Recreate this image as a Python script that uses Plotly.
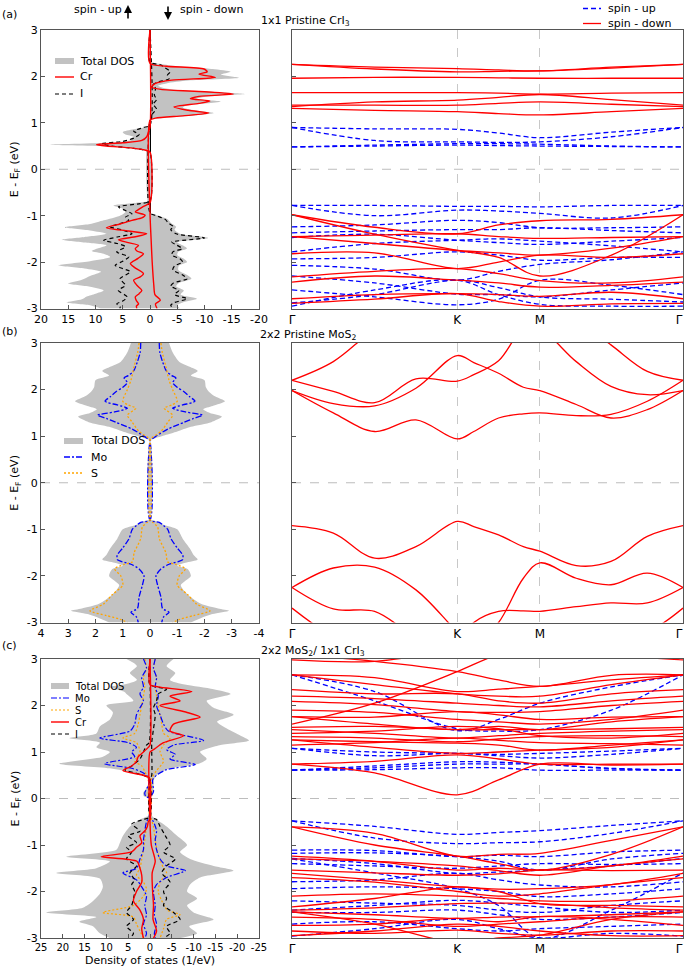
import plotly.graph_objects as go

# ------------------------------------------------------------------ data
# k-path (Gamma-K-M-Gamma, lengths 1 : 0.5 : 0.866)
KPATH_POS = [0.0, 1.0, 1.5, 2.366]
KPATH_LBL = ["Γ", "K", "M", "Γ"]
K7 = [0.0, 0.5, 1.0, 1.25, 1.5, 1.933, 2.366]
K13 = [0.0, 0.25, 0.5, 0.75, 1.0, 1.1, 1.25, 1.4, 1.5, 1.72, 1.93, 2.15, 2.366]
E_TICKS = [3, 2, 1, 0, -1, -2, -3]
DOS_TICKS_A = [20, 15, 10, 5, 0, -5, -10, -15, -20]
DOS_TICKS_B = [4, 3, 2, 1, 0, -1, -2, -3, -4]
DOS_TICKS_C = [25, 20, 15, 10, 5, 0, -5, -10, -15, -20, -25]

# (a) pristine CrI3 DOS  (energy eV, DOS 1/eV); spin-up > 0, spin-down < 0
A_TOT_UP = [(3.0, 0), (0.97, 0), (0.92, 0.4), (0.86, 3.0), (0.8, 5.0), (0.75, 4.5), (0.7, 3.0),
            (0.64, 3.2), (0.58, 6.0), (0.53, 18.3), (0.49, 7.0), (0.45, 3.5), (0.41, 1.5), (0.37, 0),
            (-0.66, 0), (-0.72, 2.5), (-0.78, 6.7), (-0.85, 5.0), (-0.92, 4.5), (-1.0, 5.5),
            (-1.1, 8.5), (-1.18, 11.0), (-1.25, 15.6), (-1.32, 11.0), (-1.39, 8.0), (-1.46, 12.0),
            (-1.52, 16.2), (-1.58, 12.0), (-1.64, 8.0), (-1.7, 9.5), (-1.76, 10.7), (-1.82, 8.5),
            (-1.89, 7.3), (-1.98, 11.0), (-2.07, 16.8), (-2.14, 12.0), (-2.21, 9.0), (-2.3, 11.0),
            (-2.38, 12.5), (-2.46, 15.0), (-2.53, 11.0), (-2.61, 8.5), (-2.68, 10.0), (-2.74, 11.6),
            (-2.8, 12.5), (-2.87, 15.3), (-2.93, 11.0), (-3.0, 9.0)]
A_TOT_DN = [(3.0, 0), (2.31, 0), (2.27, -2.0), (2.22, -5.0), (2.16, -11.5), (2.1, -14.8), (2.04, -13.0),
            (1.97, -16.3), (1.91, -7.0), (1.85, -3.0), (1.8, -1.5), (1.75, -2.5), (1.71, -5.0),
            (1.66, -13.0), (1.62, -17.5), (1.57, -10.5), (1.52, -8.5), (1.46, -13.0), (1.42, -10.5),
            (1.37, -6.5), (1.33, -6.0), (1.27, -8.2), (1.21, -11.7), (1.15, -7.5), (1.1, -2.0),
            (1.06, 0), (-0.94, 0), (-1.0, -1.6), (-1.08, -3.3), (-1.15, -3.8), (-1.24, -4.8),
            (-1.3, -4.5), (-1.39, -5.5), (-1.48, -10.7), (-1.57, -5.0), (-1.64, -6.0), (-1.71, -6.8),
            (-1.78, -5.2), (-1.85, -5.0), (-1.93, -6.2), (-2.0, -6.8), (-2.08, -5.3), (-2.17, -5.2),
            (-2.28, -6.8), (-2.36, -7.6), (-2.45, -5.3), (-2.52, -4.8), (-2.61, -6.2), (-2.7, -5.6),
            (-2.79, -8.6), (-2.87, -6.0), (-2.93, -5.0), (-3.0, -5.5)]
A_CR_UP = [(3.0, 0), (0.9, 0), (0.8, 0.3), (0.7, 0.6), (0.62, 1.5), (0.57, 5.0), (0.53, 9.8), (0.5, 8.0),
           (0.46, 3.5), (0.41, 0.8), (0.37, 0), (-0.72, 0), (-0.8, 1.2), (-0.86, 2.0), (-0.92, 2.7),
           (-0.99, 0.9), (-1.05, 1.5), (-1.1, 3.3), (-1.18, 5.5), (-1.26, 8.0), (-1.33, 4.0),
           (-1.39, 0.6), (-1.45, 2.5), (-1.52, 5.8), (-1.58, 4.0), (-1.64, 2.1), (-1.71, 2.7),
           (-1.76, 2.4), (-1.82, 1.2), (-1.92, 2.2), (-2.03, 3.6), (-2.12, 2.8), (-2.25, 1.2),
           (-2.32, 1.8), (-2.39, 3.0), (-2.5, 2.4), (-2.61, 1.5), (-2.68, 2.0), (-2.75, 2.7),
           (-2.83, 2.5), (-2.9, 2.1), (-2.95, 2.5), (-3.0, 2.4)]
A_CR_DN = [(3.0, 0), (2.28, 0), (2.22, -3.0), (2.16, -9.9), (2.1, -10.5), (2.05, -9.0), (1.98, -12.0),
           (1.92, -4.0), (1.85, -1.0), (1.77, -0.3), (1.72, -2.0), (1.67, -10.0), (1.62, -15.3),
           (1.57, -9.0), (1.52, -7.4), (1.47, -11.0), (1.42, -9.0), (1.34, -4.4), (1.27, -7.0),
           (1.21, -10.8), (1.15, -6.0), (1.1, -1.0), (1.05, 0), (-0.94, 0), (-1.5, -0.2), (-2.0, -0.4),
           (-2.5, -0.7), (-2.7, -0.9), (-2.82, -1.9), (-2.9, -1.0), (-3.0, -1.3)]
A_I_UP = [(3.0, 0), (0.95, 0), (0.9, 1.2), (0.82, 3.0), (0.75, 2.0), (0.68, 2.8), (0.6, 5.0), (0.55, 8.8),
          (0.5, 7.0), (0.45, 3.0), (0.4, 0.5), (0.37, 0), (-0.68, 0), (-0.74, 1.8), (-0.81, 5.8),
          (-0.89, 4.5), (-0.96, 3.3), (-1.03, 4.5), (-1.1, 3.9), (-1.17, 5.5), (-1.24, 7.3), (-1.31, 5.0),
          (-1.39, 3.3), (-1.46, 6.0), (-1.53, 8.5), (-1.6, 6.0), (-1.67, 4.5), (-1.78, 6.1), (-1.89, 3.9),
          (-1.98, 5.0), (-2.07, 6.4), (-2.14, 5.0), (-2.21, 3.6), (-2.36, 5.5), (-2.5, 4.5), (-2.61, 5.8),
          (-2.75, 4.2), (-2.84, 5.0), (-2.9, 6.1), (-2.96, 5.5), (-3.0, 5.5)]
A_I_DN = [(3.0, 0), (2.31, 0), (2.25, -1.9), (2.18, -2.8), (2.1, -3.7), (2.03, -3.2), (1.95, -3.5),
          (1.88, -1.5), (1.82, -0.5), (1.75, -1.0), (1.6, -0.8), (1.5, -1.2), (1.4, -0.6), (1.3, -1.2),
          (1.2, -0.5), (1.1, -0.3), (1.05, 0), (-0.94, 0), (-1.0, -1.2), (-1.08, -2.8), (-1.15, -3.3),
          (-1.24, -4.3), (-1.3, -3.8), (-1.39, -4.8), (-1.48, -10.0), (-1.57, -4.0), (-1.64, -5.0),
          (-1.71, -5.9), (-1.78, -4.2), (-1.85, -4.0), (-1.93, -5.5), (-2.0, -6.0), (-2.08, -4.5),
          (-2.17, -4.2), (-2.28, -6.0), (-2.36, -6.8), (-2.45, -4.3), (-2.52, -3.8), (-2.61, -5.3),
          (-2.7, -4.5), (-2.79, -6.8), (-2.87, -4.5), (-2.93, -3.8), (-3.0, -4.3)]

# (b) pristine MoS2 DOS (non-magnetic: spin-down mirrors spin-up)
B_TOT = [(3.0, 0.7), (2.8, 0.83), (2.6, 1.07), (2.48, 1.5), (2.4, 1.75), (2.3, 1.5), (2.2, 2.0),
         (2.05, 2.05), (1.95, 2.17), (1.85, 2.4), (1.75, 2.75), (1.65, 2.3), (1.58, 1.95), (1.5, 2.2),
         (1.42, 2.64), (1.3, 2.25), (1.2, 1.5), (1.1, 1.0), (1.02, 0.55), (0.95, 0.16), (0.9, 0),
         (-0.78, 0), (-0.82, 0.2), (-0.9, 0.5), (-1.0, 1.0), (-1.2, 1.2), (-1.4, 1.45), (-1.55, 1.6),
         (-1.65, 1.75), (-1.72, 1.3), (-1.78, 1.0), (-1.85, 1.38), (-2.0, 1.5), (-2.2, 1.13),
         (-2.4, 1.38), (-2.6, 1.87), (-2.7, 2.5), (-2.75, 2.9), (-2.82, 2.3), (-2.9, 1.9), (-3.0, 1.5)]
B_MO = [(3.0, 0.34), (2.8, 0.36), (2.6, 0.46), (2.4, 0.6), (2.3, 0.8), (2.25, 0.95), (2.15, 0.83),
        (2.05, 1.0), (1.95, 1.26), (1.85, 1.45), (1.75, 1.65), (1.67, 1.2), (1.6, 0.83), (1.52, 1.3),
        (1.45, 1.93), (1.38, 1.6), (1.3, 1.26), (1.15, 0.65), (1.0, 0.22), (0.92, 0.03), (0.9, 0),
        (-0.8, 0), (-0.85, 0.34), (-0.92, 0.5), (-1.0, 0.65), (-1.2, 0.77), (-1.4, 1.0), (-1.55, 1.2),
        (-1.65, 1.2), (-1.75, 0.7), (-1.85, 0.4), (-2.0, 0.22), (-2.2, 0.28), (-2.45, 0.4), (-2.7, 0.46),
        (-2.78, 0.7), (-2.88, 0.5), (-3.0, 0.43)]
B_S = [(3.0, 0.4), (2.8, 0.45), (2.5, 0.58), (2.2, 0.7), (2.0, 0.83), (1.75, 1.0), (1.67, 0.8),
       (1.6, 0.52), (1.45, 0.83), (1.3, 0.65), (1.1, 0.4), (0.98, 0.1), (0.95, 0.02), (0.9, 0),
       (-0.8, 0), (-0.85, 0.1), (-0.95, 0.28), (-1.2, 0.34), (-1.5, 0.58), (-1.7, 0.65), (-1.75, 0.95),
       (-1.85, 1.3), (-2.0, 1.07), (-2.2, 1.0), (-2.4, 1.38), (-2.6, 1.7), (-2.75, 2.2), (-2.85, 1.6),
       (-2.93, 1.1), (-3.0, 0.83)]

# (c) MoS2 / CrI3 heterostructure DOS
C_TOT_UP = [(3.0, 5.4), (2.85, 3.0), (2.7, 4.6), (2.55, 3.0), (2.45, 6.0), (2.4, 9.2), (2.3, 6.0),
            (2.25, 5.4), (2.1, 3.8), (2.0, 10.0), (1.85, 8.5), (1.7, 9.2), (1.55, 11.5), (1.4, 12.3),
            (1.3, 18.5), (1.2, 11.5), (1.1, 12.3), (1.0, 9.2), (0.9, 10.8), (0.75, 20.8), (0.65, 9.2),
            (0.55, 3.8), (0.45, 0.8), (0.35, 0.3), (0.2, 1.0), (0.12, 1.6), (0.05, 1.4), (0.0, 0.2),
            (-0.35, 0.1), (-0.45, 2.3), (-0.6, 4.6), (-0.8, 6.2), (-0.95, 6.9), (-1.1, 7.7),
            (-1.25, 19.2), (-1.35, 9.2), (-1.5, 12.3), (-1.6, 21.5), (-1.72, 11.5), (-1.9, 10.8),
            (-2.05, 11.5), (-2.2, 13.0), (-2.35, 15.4), (-2.45, 23.8), (-2.55, 12.3), (-2.65, 16.2),
            (-2.75, 13.0), (-2.9, 11.5), (-3.0, 9.2)]
C_TOT_DN = [(3.0, -5.4), (2.85, -3.8), (2.7, -5.8), (2.55, -4.6), (2.45, -8.0), (2.35, -14.6),
            (2.25, -18.5), (2.1, -13.0), (1.95, -14.6), (1.8, -19.2), (1.65, -15.4), (1.5, -17.7),
            (1.35, -20.8), (1.25, -22.7), (1.15, -16.2), (1.0, -11.5), (0.85, -13.0), (0.75, -11.2),
            (0.65, -4.6), (0.5, -1.5), (0.4, -0.9), (0.15, -0.8), (0.05, -0.5), (0.0, 0), (-0.35, -0.2),
            (-0.45, -1.5), (-0.6, -3.8), (-0.8, -6.2), (-1.0, -8.5), (-1.15, -6.9), (-1.3, -9.2),
            (-1.45, -14.6), (-1.55, -19.2), (-1.7, -11.5), (-1.85, -9.2), (-2.0, -8.5), (-2.15, -10.8),
            (-2.3, -8.5), (-2.45, -10.0), (-2.6, -14.6), (-2.75, -9.0), (-2.9, -10.8), (-3.0, -7.0)]
C_MO_UP = [(3.0, 1.5), (2.8, 0.8), (2.6, 1.9), (2.4, 1.5), (2.25, 2.3), (2.1, 1.5), (1.95, 2.3), (1.8, 3.1),
           (1.6, 3.5), (1.45, 4.6), (1.3, 11.5), (1.2, 5.0), (1.1, 3.1), (1.0, 4.2), (0.9, 3.5),
           (0.75, 10.4), (0.65, 4.2), (0.55, 1.5), (0.45, 0.4), (0.3, 0.3), (0.12, 1.2), (0.05, 1.0),
           (0.0, 0.1), (-0.4, 0.2), (-0.5, 0.8), (-0.7, 1.2), (-0.9, 1.5), (-1.1, 1.5), (-1.3, 2.3),
           (-1.5, 3.1), (-1.6, 6.2), (-1.75, 3.1), (-1.9, 1.9), (-2.1, 0.8), (-2.3, 1.2), (-2.5, 0.8),
           (-2.7, 1.5), (-2.9, 0.8), (-3.0, 1.2)]
C_MO_DN = [(3.0, -1.2), (2.8, -0.8), (2.6, -1.5), (2.4, -1.2), (2.2, -1.9), (2.0, -1.5), (1.8, -2.3),
           (1.6, -3.1), (1.45, -4.2), (1.25, -12.3), (1.15, -5.4), (1.05, -3.8), (0.95, -5.8),
           (0.85, -4.6), (0.73, -10.4), (0.62, -3.8), (0.5, -1.5), (0.4, -0.6), (0.15, -0.8), (0.0, 0),
           (-0.4, 0), (-0.5, -0.8), (-0.7, -1.5), (-0.9, -1.2), (-1.1, -1.5), (-1.3, -2.3), (-1.45, -3.8),
           (-1.55, -8.1), (-1.7, -3.8), (-1.85, -1.5), (-2.0, -0.8), (-2.3, -1.2), (-2.5, -1.0),
           (-2.7, -1.5), (-2.9, -1.0), (-3.0, -1.2)]
C_S_UP = [(3.0, 1.2), (2.8, 0.8), (2.6, 1.5), (2.4, 1.2), (2.2, 1.5), (2.0, 1.9), (1.8, 2.3), (1.6, 2.7),
          (1.4, 3.5), (1.3, 6.2), (1.2, 3.1), (1.0, 2.3), (0.8, 3.5), (0.7, 1.9), (0.5, 0.8), (0.35, 0.3),
          (0.1, 0.4), (-0.4, 0.2), (-0.6, 0.8), (-0.9, 1.2), (-1.1, 1.5), (-1.3, 1.9), (-1.5, 2.3),
          (-1.65, 3.1), (-1.8, 1.5), (-1.95, 0.8), (-2.1, 1.5), (-2.3, 3.8), (-2.45, 10.8), (-2.55, 3.8),
          (-2.7, 3.1), (-2.85, 2.3), (-3.0, 1.5)]
C_S_DN = [(3.0, -1.2), (2.8, -0.8), (2.6, -1.5), (2.4, -1.2), (2.2, -1.5), (2.0, -1.9), (1.8, -2.3),
          (1.6, -2.7), (1.4, -3.1), (1.3, -4.6), (1.15, -3.1), (1.0, -2.3), (0.8, -3.1), (0.6, -1.5),
          (0.45, -0.5), (0.1, -0.4), (-0.4, -0.2), (-0.6, -0.8), (-0.9, -1.2), (-1.2, -1.9), (-1.5, -3.1),
          (-1.6, -3.8), (-1.8, -2.3), (-2.0, -1.9), (-2.2, -2.7), (-2.4, -4.0), (-2.5, -6.9), (-2.6, -3.8),
          (-2.8, -3.1), (-3.0, -2.3)]
C_CR_UP = [(3.0, 0), (1.15, 0), (1.1, 0.4), (1.0, 1.5), (0.9, 2.7), (0.8, 3.1), (0.7, 4.2), (0.6, 6.2),
           (0.5, 1.5), (0.45, 0.2), (0.4, 0), (-0.45, 0), (-0.5, 0.4), (-0.6, 0.6), (-0.7, 1.2), (-0.8, 2.3),
           (-0.95, 1.9), (-1.05, 3.1), (-1.15, 4.2), (-1.25, 11.2), (-1.35, 3.0), (-1.5, 2.3),
           (-1.65, 1.9), (-1.8, 1.9), (-2.0, 3.1), (-2.2, 3.8), (-2.4, 2.3), (-2.6, 1.5), (-2.8, 1.9),
           (-3.0, 1.5)]
C_CR_DN = [(3.0, 0), (2.45, 0), (2.4, -1.9), (2.3, -9.6), (2.2, -4.6), (2.1, -6.9), (2.0, -2.3),
           (1.85, -8.5), (1.75, -11.5), (1.6, -5.4), (1.45, -4.6), (1.35, -7.7), (1.2, -3.1), (1.05, -0.8),
           (1.0, 0), (-0.5, 0), (-1.0, -0.3), (-1.35, -1.2), (-1.6, -0.5), (-2.0, -0.6), (-2.3, -0.8),
           (-2.6, -0.7), (-2.85, -1.5), (-3.0, -0.8)]
C_I_UP = [(3.0, 0.1), (1.2, 0.2), (1.15, 0.8), (1.0, 1.5), (0.85, 2.3), (0.7, 4.2), (0.62, 5.8),
          (0.52, 2.3), (0.45, 0.3), (0.4, 0), (-0.4, 0), (-0.45, 1.5), (-0.55, 4.2), (-0.7, 2.3),
          (-0.8, 5.0), (-0.95, 3.1), (-1.05, 5.4), (-1.15, 4.2), (-1.3, 5.4), (-1.45, 3.1), (-1.6, 4.6),
          (-1.75, 3.5), (-1.85, 4.2), (-2.0, 3.5), (-2.15, 3.8), (-2.3, 4.2), (-2.45, 5.4), (-2.6, 3.8),
          (-2.75, 5.4), (-2.9, 3.8), (-3.0, 4.6)]
C_I_DN = [(3.0, 0), (2.45, 0), (2.35, -3.8), (2.25, -1.9), (2.1, -1.5), (1.95, -0.8), (1.8, -1.2),
          (1.5, -0.8), (1.2, -0.4), (1.0, -0.4), (0.5, -0.4), (0.4, 0), (-0.4, 0), (-0.45, -1.5),
          (-0.6, -2.3), (-0.8, -3.5), (-1.0, -4.6), (-1.15, -3.1), (-1.3, -5.8), (-1.45, -3.8),
          (-1.6, -2.7), (-1.8, -4.6), (-2.0, -3.1), (-2.15, -3.8), (-2.3, -3.1), (-2.45, -5.4),
          (-2.6, -6.9), (-2.75, -3.8), (-2.9, -4.6), (-3.0, -3.1)]

# band energies (eV) at K7 / K13 points
A_BANDS_UP = [
    [0.90, 0.87, 0.86, 0.78, 0.68, 0.80, 0.90],
    [0.90, 0.62, 0.59, 0.58, 0.59, 0.70, 0.90],
    [0.48, 0.52, 0.55, 0.55, 0.54, 0.50, 0.48],
    [0.48, 0.50, 0.52, 0.51, 0.50, 0.49, 0.48],
    [-0.78, -0.78, -0.80, -0.80, -0.81, -0.78, -0.78],
    [-0.78, -1.00, -0.88, -0.90, -0.95, -1.05, -0.78],
    [-1.24, -1.20, -1.10, -1.15, -1.26, -1.26, -1.24],
    [-1.37, -1.33, -1.30, -1.30, -1.26, -1.32, -1.37],
    [-1.47, -1.40, -1.53, -1.58, -1.62, -1.55, -1.47],
    [-1.78, -1.60, -1.53, -1.50, -1.55, -1.65, -1.78],
    [-1.93, -1.90, -1.78, -1.85, -1.96, -1.90, -1.90],
    [-2.07, -2.15, -2.39, -2.20, -2.05, -1.95, -1.78],
    [-2.88, -2.70, -2.39, -2.55, -2.75, -2.80, -2.86],
    [-2.95, -2.60, -2.39, -2.70, -2.91, -2.95, -2.95],
    [-2.30, -2.45, -2.69, -2.70, -2.75, -2.60, -2.45],
    [-2.60, -2.75, -2.92, -2.80, -2.39, -2.50, -2.70],
]
A_BANDS_DN = [
    [2.26, 2.20, 2.17, 2.14, 2.12, 2.20, 2.26],
    [2.26, 2.16, 2.10, 2.11, 2.12, 2.18, 2.26],
    [1.96, 1.98, 1.98, 1.97, 1.96, 1.96, 1.96],
    [1.65, 1.65, 1.65, 1.64, 1.62, 1.64, 1.65],
    [1.35, 1.45, 1.49, 1.55, 1.61, 1.50, 1.38],
    [1.38, 1.38, 1.38, 1.42, 1.45, 1.40, 1.35],
    [1.31, 1.27, 1.24, 1.20, 1.17, 1.24, 1.31],
    [-0.98, -1.25, -1.39, -1.20, -1.11, -1.08, -0.98],
    [-0.98, -1.40, -1.75, -1.90, -2.30, -1.85, -0.98],
    [-1.45, -1.42, -1.39, -1.45, -1.49, -1.47, -1.45],
    [-1.45, -1.60, -1.75, -1.80, -1.85, -1.70, -1.45],
    [-1.82, -1.80, -2.14, -2.00, -1.85, -1.90, -1.82],
    [-2.32, -2.20, -2.14, -2.25, -2.40, -2.45, -2.32],
    [-2.43, -2.30, -2.39, -2.45, -2.54, -2.50, -2.43],
    [-2.79, -2.70, -2.68, -2.70, -2.74, -2.65, -2.79],
    [-2.89, -2.80, -2.68, -2.85, -2.95, -2.90, -2.89],
]
B_BANDS = [
    [1.98, 1.50, 1.10, 1.35, 0.94, 1.10, 1.39, 1.48, 1.50, 1.44, 1.47, 1.75, 2.20],
    [1.98, 1.70, 1.65, 2.03, 2.73, 2.58, 2.35, 2.05, 1.98, 1.68, 1.39, 1.57, 1.98],
    [2.20, 1.96, 1.72, 2.23, 2.18, 2.32, 2.62, 3.30, 3.30, 2.60, 2.07, 1.89, 1.98],
    [2.20, 2.60, 3.30, 3.80, 4.00, 4.00, 3.90, 3.80, 3.70, 3.50, 2.96, 2.39, 2.20],
    [-0.92, -1.08, -1.62, -1.37, -0.83, -0.94, -1.12, -1.37, -1.47, -1.78, -1.69, -1.15, -0.92],
    [-2.25, -1.83, -1.81, -2.30, -3.20, -3.50, -3.00, -2.05, -1.72, -2.05, -2.19, -1.94, -2.25],
    [-2.25, -2.71, -2.76, -3.30, -3.50, -3.00, -2.76, -2.75, -2.76, -2.66, -2.58, -2.58, -2.25],
    [-2.69, -3.30, -3.60, -3.60, -3.60, -3.60, -3.60, -3.60, -3.60, -3.50, -3.30, -3.20, -2.69],
]
C_BANDS_UP = [
    [2.66, 2.30, 1.46, 1.70, 2.05, 2.40, 2.66],
    [2.66, 2.10, 1.50, 1.45, 1.48, 1.90, 2.66],
    [1.08, 1.00, 0.97, 0.95, 0.97, 1.02, 1.08],
    [1.08, 0.92, 0.97, 0.92, 0.87, 0.95, 1.08],
    [0.61, 0.70, 0.79, 0.78, 0.74, 0.65, 0.61],
    [0.61, 0.66, 0.74, 0.74, 0.74, 0.64, 0.61],
    [0.61, 0.62, 0.66, 0.66, 0.61, 0.61, 0.61],
    [-0.48, -0.60, -0.77, -0.73, -0.69, -0.58, -0.48],
    [-0.48, -0.85, -0.97, -0.95, -0.93, -0.75, -0.48],
    [-1.11, -1.12, -1.25, -1.22, -1.25, -1.15, -1.11],
    [-1.18, -1.17, -1.25, -1.35, -1.54, -1.30, -1.18],
    [-1.29, -1.40, -1.61, -1.58, -1.54, -1.45, -1.29],
    [-1.40, -1.45, -1.50, -1.45, -1.40, -1.42, -1.40],
    [-1.79, -1.75, -1.61, -1.75, -1.86, -1.90, -1.79],
    [-1.94, -1.90, -1.94, -2.00, -2.11, -2.05, -1.94],
    [-2.20, -2.25, -2.30, -2.40, -2.45, -2.30, -2.20],
    [-2.40, -2.30, -2.19, -2.25, -2.33, -2.45, -2.40],
    [-2.45, -2.45, -2.40, -2.50, -2.60, -2.55, -2.45],
    [-2.70, -2.65, -2.80, -2.85, -2.80, -2.75, -2.70],
    [-2.96, -2.80, -2.60, -2.80, -3.00, -2.90, -2.96],
    [-1.30, -1.60, -1.94, -2.30, -3.00, -2.40, -1.60],
]
C_BANDS_DN = [
    [2.98, 2.95, 3.20, 3.30, 3.35, 3.10, 2.98],
    [3.10, 2.95, 2.73, 2.55, 2.41, 2.65, 2.66],
    [1.60, 2.05, 2.73, 3.10, 3.30, 3.30, 3.20],
    [2.66, 2.60, 2.30, 2.35, 2.41, 2.55, 2.66],
    [2.66, 2.45, 2.25, 2.20, 2.20, 2.45, 2.66],
    [2.34, 2.25, 2.25, 2.10, 2.05, 2.25, 2.34],
    [2.20, 2.15, 2.05, 2.00, 1.97, 2.10, 2.20],
    [2.09, 2.02, 1.87, 1.85, 1.87, 2.00, 2.09],
    [1.90, 1.85, 1.70, 1.65, 1.60, 1.70, 1.90],
    [1.76, 1.75, 1.87, 1.80, 1.70, 1.75, 1.76],
    [1.76, 1.60, 1.48, 1.55, 1.48, 1.65, 1.76],
    [1.53, 1.55, 1.48, 1.48, 1.48, 1.50, 1.53],
    [1.48, 1.40, 1.30, 1.35, 1.40, 1.45, 1.48],
    [1.40, 1.45, 1.55, 1.50, 1.35, 1.30, 1.40],
    [1.33, 1.30, 1.22, 1.28, 1.33, 1.35, 1.33],
    [1.26, 1.22, 1.19, 1.15, 1.04, 1.15, 1.26],
    [1.15, 1.20, 1.30, 1.25, 1.20, 1.18, 1.15],
    [1.26, 1.10, 0.97, 1.00, 1.04, 1.10, 1.26],
    [0.74, 0.80, 0.94, 0.85, 0.74, 0.74, 0.74],
    [0.74, 0.55, 0.08, 0.40, 0.74, 0.72, 0.74],
    [-0.61, -1.00, -1.24, -1.40, -1.54, -1.20, -0.61],
    [-0.61, -0.75, -1.24, -1.20, -1.18, -0.90, -0.61],
    [-1.24, -1.35, -1.54, -1.50, -1.54, -1.45, -1.24],
    [-1.30, -1.35, -1.45, -1.55, -1.65, -1.45, -1.30],
    [-1.54, -1.60, -1.65, -1.62, -1.54, -1.55, -1.54],
    [-1.61, -1.75, -1.90, -1.95, -1.94, -1.85, -1.61],
    [-1.70, -1.80, -2.00, -2.10, -2.05, -1.85, -1.70],
    [-2.10, -2.05, -2.10, -2.15, -2.20, -2.20, -2.10],
    [-2.33, -2.15, -1.90, -2.00, -2.26, -2.30, -2.33],
    [-2.40, -2.35, -2.26, -2.25, -2.26, -2.35, -2.40],
    [-2.44, -2.50, -2.58, -2.55, -2.54, -2.50, -2.44],
    [-2.55, -2.60, -2.75, -2.70, -2.65, -2.55, -2.55],
    [-2.73, -2.70, -2.58, -2.65, -2.54, -2.60, -2.73],
    [-2.85, -2.90, -2.83, -2.90, -2.94, -2.85, -2.85],
    [-2.95, -2.85, -2.70, -2.75, -2.85, -2.95, -2.95],
    [-2.44, -2.70, -3.10, -3.00, -2.94, -2.60, -2.44],
]

# ------------------------------------------------------------------ style
W, H = 685, 970
FONT = "DejaVu Sans"
GRAY = "#c2c2c2"
RED = "#ff0000"
BLUE = "#0000ff"
ORANGE = "#ffa500"
FRAME = "#555555"


def px(x):
    return x / W


def py(y):
    return 1 - y / H


fig = go.Figure()


def dos_fill(pairs, xa, ya, sign=1):
    fig.add_trace(go.Scatter(
        x=[sign * p[1] for p in pairs], y=[p[0] for p in pairs], mode="lines",
        line=dict(width=0, color=GRAY, shape="spline", smoothing=0.7),
        fill="tozerox", fillcolor=GRAY, xaxis=xa, yaxis=ya,
        showlegend=False, hoverinfo="skip"))


def dos_line(pairs, color, dash, width, xa, ya, sign=1):
    fig.add_trace(go.Scatter(
        x=[sign * p[1] for p in pairs], y=[p[0] for p in pairs], mode="lines",
        line=dict(width=width, color=color, dash=dash, shape="spline", smoothing=0.7),
        xaxis=xa, yaxis=ya, showlegend=False, hoverinfo="skip"))


def bands(kpts, blist, color, dash, xa, ya):
    for b in blist:
        fig.add_trace(go.Scatter(
            x=kpts, y=b, mode="lines",
            line=dict(width=1.3, color=color, dash=dash, shape="spline", smoothing=1.0),
            xaxis=xa, yaxis=ya, showlegend=False, hoverinfo="skip"))


DASH_I = "4px,3px"
DASH_MO = "6px,2px,2px,2px"
DASH_S = "2px,2px"
DASH_UP = "5px,3px"

# (a)
dos_fill(A_TOT_UP, "x", "y")
dos_fill(A_TOT_DN, "x", "y")
dos_line(A_I_UP, "black", DASH_I, 1.2, "x", "y")
dos_line(A_I_DN, "black", DASH_I, 1.2, "x", "y")
dos_line(A_CR_UP, RED, "solid", 1.4, "x", "y")
dos_line(A_CR_DN, RED, "solid", 1.4, "x", "y")
bands(K7, A_BANDS_UP, BLUE, DASH_UP, "x2", "y2")
bands(K7, A_BANDS_DN, RED, "solid", "x2", "y2")

# (b)
dos_fill(B_TOT, "x3", "y3")
dos_fill(B_TOT, "x3", "y3", sign=-1)
dos_line(B_MO, BLUE, DASH_MO, 1.3, "x3", "y3")
dos_line(B_MO, BLUE, DASH_MO, 1.3, "x3", "y3", sign=-1)
dos_line(B_S, ORANGE, DASH_S, 1.3, "x3", "y3")
dos_line(B_S, ORANGE, DASH_S, 1.3, "x3", "y3", sign=-1)
bands(K13, B_BANDS, RED, "solid", "x4", "y4")

# (c)
dos_fill(C_TOT_UP, "x5", "y5")
dos_fill(C_TOT_DN, "x5", "y5")
dos_line(C_S_UP, ORANGE, DASH_S, 1.2, "x5", "y5")
dos_line(C_S_DN, ORANGE, DASH_S, 1.2, "x5", "y5")
dos_line(C_MO_UP, BLUE, DASH_MO, 1.2, "x5", "y5")
dos_line(C_MO_DN, BLUE, DASH_MO, 1.2, "x5", "y5")
dos_line(C_I_UP, "black", DASH_I, 1.2, "x5", "y5")
dos_line(C_I_DN, "black", DASH_I, 1.2, "x5", "y5")
dos_line(C_CR_UP, RED, "solid", 1.4, "x5", "y5")
dos_line(C_CR_DN, RED, "solid", 1.4, "x5", "y5")
bands(K7, C_BANDS_UP, BLUE, DASH_UP, "x6", "y6")
bands(K7, C_BANDS_DN, RED, "solid", "x6", "y6")

# ------------------------------------------------------------------ axes
XL = [41 / W, 259 / W]
XR = [292 / W, 683 / W]
ROWS = [(30, 308.5), (343, 622.5), (659, 938)]
tickfont = dict(family=FONT, size=11, color="black")
base = dict(showline=True, linecolor=FRAME, linewidth=1, mirror=True, ticks="inside",
            ticklen=4, tickcolor=FRAME, showgrid=False, zeroline=False, tickfont=tickfont,
            automargin=False, tickangle=0, ticklabeloverflow="allow")

# keep the right-most Gamma label inside the page
k_ticktext = KPATH_LBL[:-1] + [KPATH_LBL[-1] + "\u00a0\u00a0"]

layout_axes = {}
dos_ticks = [DOS_TICKS_A, DOS_TICKS_B, DOS_TICKS_C]
for r, (top, bot) in enumerate(ROWS):
    yd = [1 - bot / H, 1 - top / H]
    il = 2 * r + 1
    ir = 2 * r + 2
    sl = "" if il == 1 else str(il)
    sr = str(ir)
    dt = dos_ticks[r]
    xfont = dict(family=FONT, size=10 if r == 2 else 11, color="black")
    layout_axes["xaxis" + sl] = dict(base, domain=XL, anchor="y" + sl, range=[dt[0], dt[-1]],
                                     tickvals=dt, ticktext=[str(v) for v in dt], tickfont=xfont,
                                     zeroline=(r == 0), zerolinecolor="black", zerolinewidth=1)
    layout_axes["yaxis" + sl] = dict(base, domain=yd, anchor="x" + sl, range=[-3, 3],
                                     tickvals=E_TICKS, ticktext=[str(v) for v in E_TICKS])
    layout_axes["xaxis" + sr] = dict(base, domain=XR, anchor="y" + sr, range=[0, KPATH_POS[-1]],
                                     tickvals=KPATH_POS, ticktext=k_ticktext, ticks="",
                                     tickfont=dict(family=FONT, size=12, color="black"),
                                     showgrid=True, gridcolor="#c8c8c8", griddash="dash", gridwidth=1)
    layout_axes["yaxis" + sr] = dict(base, domain=yd, anchor="x" + sr, range=[-3, 3],
                                     tickvals=E_TICKS, showticklabels=False, mirror=True)

fig.update_layout(**layout_axes)

# zero-energy dashed reference lines
shapes = []
for i in range(1, 7):
    s = "" if i == 1 else str(i)
    shapes.append(dict(type="line", xref="x" + s + " domain", yref="y" + s, x0=0, x1=1, y0=0, y1=0,
                       line=dict(color="#bdbdbd", width=1, dash="dash"), layer="below"))

annotations = []


def text(x, y, t, size=11, anchor="left", angle=0):
    annotations.append(dict(x=px(x), y=py(y), xref="paper", yref="paper", text=t, showarrow=False,
                            xanchor=anchor, yanchor="middle", textangle=angle,
                            font=dict(family=FONT, size=size, color="black")))


def legend_entry(x0, x1, y, color, dash, width, label, tx, size=11):
    shapes.append(dict(type="line", xref="paper", yref="paper", x0=px(x0), x1=px(x1),
                       y0=py(y), y1=py(y), line=dict(color=color, dash=dash, width=width)))
    text(tx, y, label, size)


# panel legends
legend_entry(55, 74, 61, GRAY, "solid", 6, "Total DOS", 78)
legend_entry(55, 74, 77, RED, "solid", 1.4, "Cr", 78)
legend_entry(55, 74, 94, "black", DASH_I, 1.2, "I", 78)

legend_entry(64, 83, 441, GRAY, "solid", 6, "Total DOS", 89)
legend_entry(64, 83, 457, BLUE, DASH_MO, 1.3, "Mo", 89)
legend_entry(64, 83, 473, ORANGE, DASH_S, 1.3, "S", 89)

legend_entry(51, 69, 686, GRAY, "solid", 6, "Total DOS", 73, 10)
legend_entry(51, 69, 698, BLUE, DASH_MO, 1.2, "Mo", 73, 10)
legend_entry(51, 69, 710, ORANGE, DASH_S, 1.2, "S", 73, 10)
legend_entry(51, 69, 722, RED, "solid", 1.4, "Cr", 73, 10)
legend_entry(51, 69, 734, "black", DASH_I, 1.2, "I", 73, 10)

legend_entry(583, 601, 8.5, BLUE, DASH_UP, 1.3, "spin - up", 606)
legend_entry(583, 601, 23.5, RED, "solid", 1.3, "spin - down", 606)

# labels
text(0, 15, "(a)", 11)
text(0, 331, "(b)", 11)
text(0, 645, "(c)", 11)
text(259, 21, "1x1 Pristine CrI<sub>3</sub>", 11)
text(258, 335, "2x2 Pristine MoS<sub>2</sub>", 11)
text(259, 651, "2x2 MoS<sub>2</sub>/ 1x1 CrI<sub>3</sub>", 11)
text(72, 10, "spin - up", 11)
text(178, 10, "spin - down", 11)
for top, bot in ROWS:
    text(15, (top + bot) / 2, "E - E<sub>F</sub> (eV)", 11, anchor="center", angle=-90)
text(150, 960, "Density of states (1/eV)", 11, anchor="center")

# spin arrows (head position, pixel offset to tail)
for xa, head, off in [(128, 5, 15), (168, 20, -15)]:
    annotations.append(dict(x=px(xa), y=py(head), ax=0, ay=off, xref="paper", yref="paper",
                            axref="pixel", ayref="pixel", text="", showarrow=True, arrowhead=2,
                            arrowsize=1, arrowwidth=1.6, arrowcolor="black"))

fig.update_layout(
    width=W, height=H, autosize=False,
    margin=dict(l=0, r=0, t=0, b=0),
    paper_bgcolor="white", plot_bgcolor="white",
    font=dict(family=FONT, size=11, color="black"),
    shapes=shapes, annotations=annotations, showlegend=False,
)

fig.write_html("out.html", config={"displayModeBar": False},
               post_script="document.body.style.margin='0';document.body.style.padding='0';")
